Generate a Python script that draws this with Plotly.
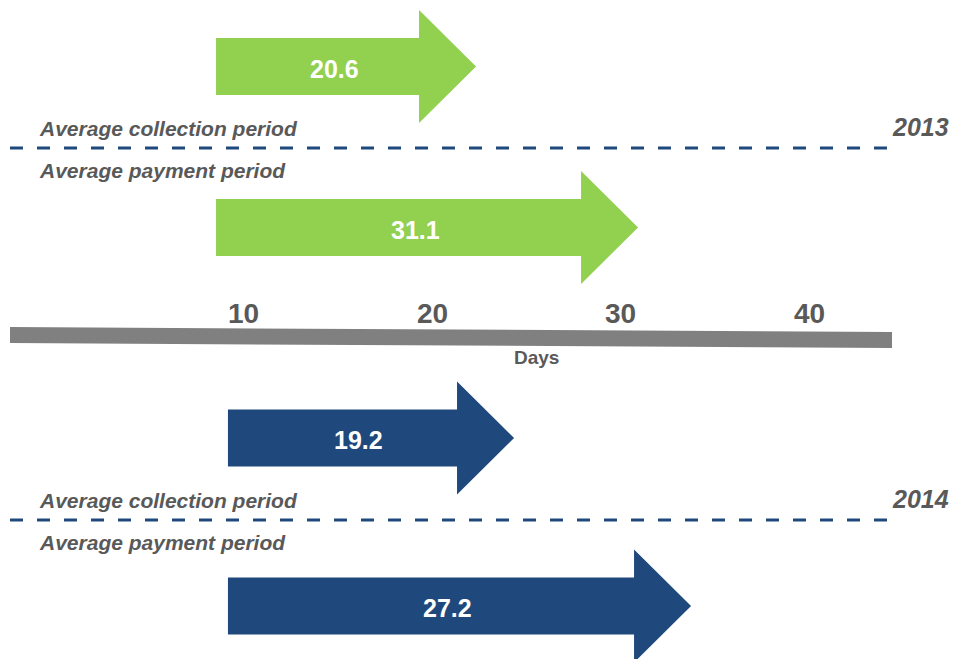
import plotly.graph_objects as go

# ---- data ----
YEARS = ["2013", "2014"]
COLLECTION_DAYS = [20.6, 19.2]
PAYMENT_DAYS = [31.1, 27.2]
ROW_LABELS = ["Average collection period", "Average payment period"]
DAY_TICKS = [10, 20, 30, 40]
DAY_TICK_LABELS = ["10", "20", "30", "40"]
AXIS_TITLE = "Days"

# ---- style / layout constants ----
OFF = 8                      # page body margin
W, H = 961 - OFF, 659 - OFF  # figure size
GREEN = "#92D050"
BLUE = "#1F497D"
GREY_TXT = "#595959"
BAR_GREY = "#808080"
YEAR_COLORS = {"2013": GREEN, "2014": BLUE}
# hidden per-panel arrow axes (days)
ARROW_RANGES = {"2013": [-9.733, 52.03], "2014": [-3.670, 39.40]}
ARROW_START = {"2013": 3.75, "2014": 6.27}
DAYS_RANGE = [-2.434, 47.99]
# vertical layout in pixels (y axis = page pixels, top->bottom)
ROW_Y = {"2013": (66.5, 227.5), "2014": (438, 606)}
DASH_Y = {"2013": 148, "2014": 520}
BODY_HALF = 28.5
HEAD_HALF = 56.5
HEAD_PX = 57
FONT = "Liberation Sans, Arial, sans-serif"


def px(p):
    """page x pixel -> paper fraction"""
    return (p - OFF) / W


fig = go.Figure()
annotations = []
shapes = []

axis_ids = {"2013": "x2", "2014": "x3"}

for yi, year in enumerate(YEARS):
    xa = axis_ids[year]
    rng = ARROW_RANGES[year]
    head_days = HEAD_PX * (rng[1] - rng[0]) / W
    start = ARROW_START[year]
    for val, yc in zip([COLLECTION_DAYS[yi], PAYMENT_DAYS[yi]], ROW_Y[year]):
        hb = val - head_days
        xs = [start, hb, hb, val, hb, hb, start, start]
        ys = [yc - BODY_HALF, yc - BODY_HALF, yc - HEAD_HALF, yc,
              yc + HEAD_HALF, yc + BODY_HALF, yc + BODY_HALF, yc - BODY_HALF]
        fig.add_trace(go.Scatter(
            x=xs, y=ys, xaxis=xa, yaxis="y", mode="lines", fill="toself",
            fillcolor=YEAR_COLORS[year], line=dict(width=0, color=YEAR_COLORS[year]),
            hoverinfo="skip", showlegend=False))
        annotations.append(dict(
            x=(start + val) / 2, y=yc + 2, xref=xa, yref="y", text=f"<b>{val}</b>",
            showarrow=False, xshift=-12,
            font=dict(family=FONT, size=25, color="white")))

    dy = DASH_Y[year]
    shapes.append(dict(type="line", xref="paper", yref="y", x0=px(10), x1=px(895),
                       y0=dy, y1=dy, line=dict(color=BLUE, width=3, dash="13px,14px")))
    annotations.append(dict(x=px(37), y=dy - 20, xref="paper", yref="y", xanchor="left",
                            text=f"<b><i>{ROW_LABELS[0]}</i></b>", showarrow=False,
                            font=dict(family=FONT, size=21, color=GREY_TXT)))
    annotations.append(dict(x=px(37), y=dy + 22, xref="paper", yref="y", xanchor="left",
                            text=f"<b><i>{ROW_LABELS[1]}</i></b>", showarrow=False,
                            font=dict(family=FONT, size=21, color=GREY_TXT)))
    annotations.append(dict(x=px(951), y=dy - 21, xref="paper", yref="y", xanchor="right",
                            text=f"<b><i>{year}</i></b>", showarrow=False,
                            font=dict(family=FONT, size=25, color=GREY_TXT)))

# days axis bar (slightly slanted)
shapes.append(dict(type="path", xref="paper", yref="y",
                   path=f"M {px(10)},327 L {px(892)},332 L {px(892)},348 L {px(10)},343 Z",
                   fillcolor=BAR_GREY, line=dict(width=0)))
for t, lab in zip(DAY_TICKS, DAY_TICK_LABELS):
    annotations.append(dict(x=t, y=313, xref="x", yref="y", text=f"<b>{lab}</b>",
                            showarrow=False, font=dict(family=FONT, size=28, color=GREY_TXT)))
annotations.append(dict(x=px(536), y=357, xref="paper", yref="y", text=f"<b>{AXIS_TITLE}</b>",
                        showarrow=False, font=dict(family=FONT, size=19, color=GREY_TXT)))

hidden = dict(visible=False, showgrid=False, zeroline=False, fixedrange=True)
fig.update_layout(
    width=W, height=H, margin=dict(l=0, r=0, t=0, b=0),
    paper_bgcolor="white", plot_bgcolor="white", showlegend=False,
    xaxis=dict(range=DAYS_RANGE, domain=[0, 1], **hidden),
    xaxis2=dict(range=ARROW_RANGES["2013"], overlaying="x", anchor="y", **hidden),
    xaxis3=dict(range=ARROW_RANGES["2014"], overlaying="x", anchor="y", **hidden),
    yaxis=dict(range=[659, OFF], domain=[0, 1], **hidden),
    annotations=annotations, shapes=shapes,
)
fig.write_html("out.html", config={"displayModeBar": False})
